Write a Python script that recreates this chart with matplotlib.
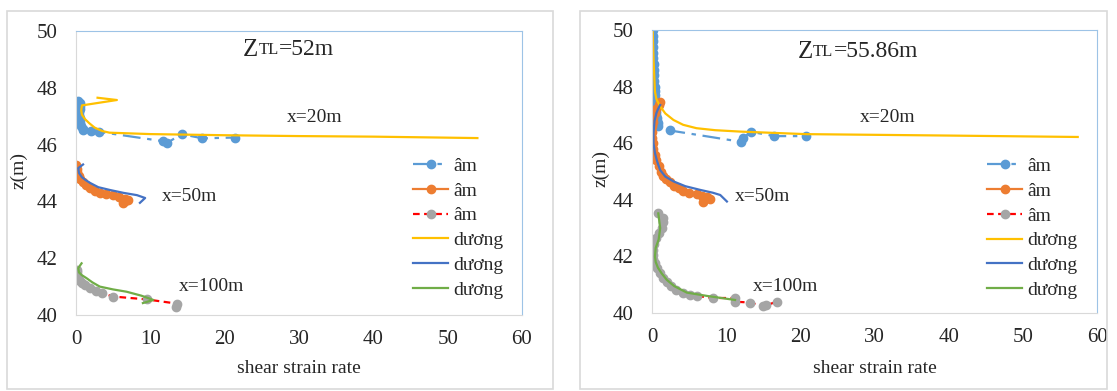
import matplotlib.pyplot as plt
from matplotlib.patches import Rectangle

plt.rcParams['font.family'] = ['Liberation Serif', 'DejaVu Serif']

# ---- left panel (ZTL = 52 m) ----
l_am20_x = [0.3, 0.5, 0.6, 0.5, 0.4, 0.4, 0.5, 0.6, 0.6, 0.7, 0.9, 1.0, 2.0, 3.1, 11.7, 12.2, 14.2, 17.0, 21.4]
l_am20_z = [47.55, 47.45, 47.35, 47.25, 47.15, 47.05, 46.95, 46.85, 46.75, 46.65, 46.55, 46.5, 46.47, 46.45, 46.12, 46.05, 46.37, 46.22, 46.25]
l_am50_x = [0.0, 0.1, 0.2, 0.4, 0.6, 0.9, 1.3, 1.9, 2.5, 3.2, 4.1, 5.0, 5.8, 6.6, 7.0, 6.6, 6.3]
l_am50_z = [45.28, 45.15, 45.02, 44.9, 44.78, 44.67, 44.57, 44.47, 44.38, 44.3, 44.26, 44.22, 44.15, 44.1, 44.05, 44.0, 43.95]
l_am100_x = [0.1, 0.1, 0.2, 0.3, 0.5, 0.8, 1.2, 1.9, 2.7, 3.5, 5.0, 9.5, 13.6, 13.4]
l_am100_z = [41.6, 41.5, 41.4, 41.3, 41.2, 41.12, 41.05, 40.95, 40.85, 40.77, 40.65, 40.55, 40.4, 40.28]
l_du20_x = [2.9, 5.5, 0.8, 0.7, 0.8, 1.2, 1.8, 2.5, 3.5, 4.5, 10.0, 20.0, 30.0, 40.0, 54.0]
l_du20_z = [47.65, 47.57, 47.38, 47.2, 47.05, 46.9, 46.75, 46.6, 46.48, 46.42, 46.37, 46.33, 46.3, 46.28, 46.23]
l_du50_x = [0.95, 0.3, 0.4, 0.8, 1.3, 1.9, 3.0, 4.6, 6.4, 8.2, 9.3, 8.6]
l_du50_z = [45.3, 45.17, 45.0, 44.85, 44.75, 44.65, 44.5, 44.4, 44.3, 44.22, 44.12, 43.95]
l_du100_x = [0.75, 0.3, 0.4, 0.8, 1.4, 2.2, 3.2, 5.0, 6.8, 8.8, 10.4, 9.0]
l_du100_z = [41.82, 41.65, 41.5, 41.4, 41.3, 41.15, 41.0, 40.9, 40.82, 40.68, 40.53, 40.42]

# ---- right panel (ZTL = 55.86 m) ----
r_am20_x = [0.1, 0.1, 0.15, 0.15, 0.2, 0.2, 0.25, 0.25, 0.3, 0.3, 0.35, 0.35, 0.4, 0.4, 0.45, 0.5,
            0.5, 0.55, 0.6, 0.65, 0.7, 0.75, 0.8, 2.4, 12.0, 12.3, 13.4, 16.5, 20.8]
r_am20_z = [50.0, 49.8, 49.6, 49.4, 49.2, 49.0, 48.8, 48.6, 48.4, 48.2, 48.0, 47.85, 47.7, 47.55, 47.4, 47.3,
            47.2, 47.1, 47.0, 46.9, 46.8, 46.7, 46.6, 46.45, 46.05, 46.2, 46.4, 46.25, 46.25]
r_am50_x = [1.1, 0.9, 0.6, 0.4, 0.2, 0.1, 0.0, 0.0, 0.0, 0.1, 0.2, 0.4, 0.6, 0.9, 1.2, 1.5, 1.9, 2.4,
            3.0, 3.6, 4.2, 5.0, 6.0, 6.7, 7.4, 7.8, 6.9]
r_am50_z = [47.45, 47.35, 47.2, 47.05, 46.9, 46.75, 46.6, 46.4, 46.2, 46.0, 45.8, 45.6, 45.4, 45.2, 45.0,
            44.85, 44.73, 44.63, 44.5, 44.4, 44.32, 44.25, 44.2, 44.15, 44.1, 44.03, 43.92]
r_am100_x = [0.8, 1.5, 1.5, 1.3, 1.0, 0.6, 0.3, 0.1, 0.1, 0.2, 0.4, 0.7, 1.1, 1.5, 2.0, 2.6, 3.3, 4.2,
             5.1, 6.0, 8.2, 11.2, 11.2, 13.2, 15.0, 15.4, 16.8]
r_am100_z = [43.52, 43.35, 43.2, 43.0, 42.83, 42.65, 42.45, 42.23, 42.05, 41.9, 41.77, 41.6, 41.41, 41.25,
             41.1, 40.95, 40.81, 40.72, 40.64, 40.6, 40.53, 40.53, 40.4, 40.37, 40.24, 40.27, 40.4]
r_du20_x = [0.1, 0.2, 0.3, 0.4, 0.6, 1.1, 1.8, 2.9, 4.2, 6.0, 8.5, 11.9, 20.8, 40.0, 57.4]
r_du20_z = [49.95, 49.0, 48.4, 47.82, 47.55, 47.3, 47.05, 46.82, 46.65, 46.53, 46.46, 46.41, 46.32, 46.27, 46.22]
r_du50_x = [1.1, 0.8, 0.6, 0.35, 0.2, 0.2, 0.4, 0.7, 1.1, 1.8, 2.9, 4.5, 6.5, 8.2, 9.2, 10.1]
r_du50_z = [47.35, 47.2, 47.07, 46.8, 46.36, 46.0, 45.65, 45.35, 45.05, 44.82, 44.65, 44.48, 44.35, 44.25, 44.17, 43.94]
r_du100_x = [0.85, 1.1, 0.9, 0.5, 0.4, 0.5, 0.8, 1.3, 2.0, 3.0, 4.7, 7.5, 11.2]
r_du100_z = [43.52, 43.0, 42.6, 42.3, 42.0, 41.8, 41.6, 41.4, 41.17, 40.95, 40.72, 40.6, 40.46]

labels = ['âm', 'âm', 'âm', 'dương', 'dương', 'dương']
blue, orange, grey = '#5B9BD5', '#ED7D31', '#A5A5A5'
yellow, dblue, green, red = '#FFC000', '#4472C4', '#70AD47', '#FF0000'
txt = '#262626'

fig = plt.figure(figsize=(11.17, 3.91), dpi=100)

# chart-area borders
for x0, w in [(7, 546), (580, 527)]:
    fig.patches.append(Rectangle((x0 / 1117, 2 / 391), w / 1117, 378 / 391,
                                 transform=fig.transFigure, fill=False,
                                 edgecolor='#D9D9D9', lw=1.2))


def panel(rect, data, title_num, notes, leg_anchor, ylab_x, xlab_y):
    ax = fig.add_axes(rect)
    (a20, a50, a100, d20, d50, d100) = data
    ax.plot(*a20, color=blue, lw=1.6, ls=(0, (8, 3, 2, 3)), marker='o', ms=6, label=labels[0])
    ax.plot(*a50, color=orange, lw=1.6, marker='o', ms=6, label=labels[1])
    ax.plot(*a100, color=red, lw=1.6, ls=(0, (3, 2)), marker='o', ms=6,
            mfc=grey, mec=grey, label=labels[2])
    ax.plot(*d20, color=yellow, lw=1.6, label=labels[3])
    ax.plot(*d50, color=dblue, lw=1.6, label=labels[4])
    ax.plot(*d100, color=green, lw=1.6, label=labels[5])

    ax.set_xlim(0, 60)
    ax.set_ylim(40, 50)
    ax.set_xticks(range(0, 61, 10))
    ax.set_yticks(range(40, 51, 2))
    ax.tick_params(length=0, labelsize=15, labelcolor=txt)
    ax.tick_params(axis='x', pad=11)
    ax.tick_params(axis='y', pad=13)
    for s in ['left', 'bottom']:
        ax.spines[s].set_color('#D9D9D9')
    for s in ['top', 'right']:
        ax.spines[s].set_color('#9DC3E6')

    ax.set_xlabel('shear strain rate', fontsize=14, color=txt)
    ax.set_ylabel('z(m)', fontsize=14, color=txt)
    ax.xaxis.set_label_coords(0.5, xlab_y)
    ax.yaxis.set_label_coords(ylab_x, 0.51)

    # title Z_TL = ...
    tx, ty = title_num[1]
    t1 = ax.text(tx, ty, 'Z', transform=ax.transAxes, fontsize=18, color=txt,
                 ha='left', va='center')
    t2 = ax.annotate('TL', xy=(1, 0.14), xycoords=t1, fontsize=12, color=txt,
                     ha='left', va='bottom')
    ax.annotate('=' + title_num[0], xy=(1, -0.14), xycoords=t2, fontsize=17,
                color=txt, ha='left', va='bottom')

    for s, (x, z) in notes.items():
        ax.text(x, z, s, fontsize=14, color=txt, ha='left', va='center')

    ax.legend(loc='center left', bbox_to_anchor=leg_anchor, frameon=False,
              fontsize=14, borderpad=0, handlelength=1.8, handletextpad=0.25,
              labelspacing=0.37, borderaxespad=0, labelcolor=txt)
    return ax


panel([76 / 1117, 1 - 315 / 391, 446 / 1117, 284 / 391],
      [(l_am20_x, l_am20_z), (l_am50_x, l_am50_z), (l_am100_x, l_am100_z),
       (l_du20_x, l_du20_z), (l_du50_x, l_du50_z), (l_du100_x, l_du100_z)],
      ('52m', (0.375, 0.933)),
      {'x=20m': (28.4, 46.94), 'x=50m': (11.6, 44.19), 'x=100m': (13.9, 41.02)},
      (0.756, 0.306), -0.108, -0.16)

panel([652 / 1117, 1 - 313 / 391, 445 / 1117, 283 / 391],
      [(r_am20_x, r_am20_z), (r_am50_x, r_am50_z), (r_am100_x, r_am100_z),
       (r_du20_x, r_du20_z), (r_du50_x, r_du50_z), (r_du100_x, r_du100_z)],
      ('55.86m', (0.328, 0.922)),
      {'x=20m': (28.0, 46.91), 'x=50m': (11.2, 44.13), 'x=100m': (13.6, 40.95)},
      (0.753, 0.30), -0.095, -0.165)

fig.savefig('out.png', dpi=100)
